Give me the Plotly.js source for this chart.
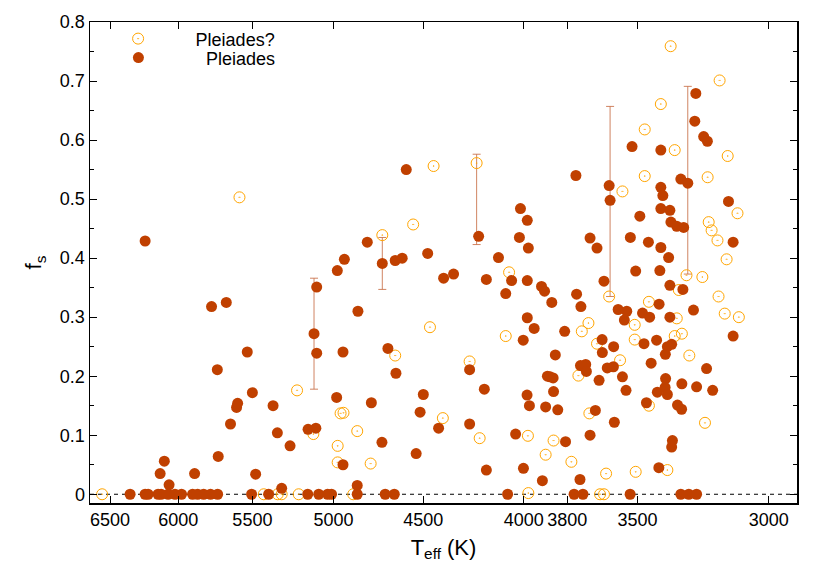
<!DOCTYPE html>
<html>
<head>
<meta charset="utf-8">
<script src="https://cdn.plot.ly/plotly-3.0.1.min.js"></script>
<style>html,body{margin:0;padding:0;background:#fff;}#chart{width:830px;height:581px;}</style>
</head>
<body>
<div id="chart"></div>
<script>
// Pleiades (filled) : effective temperature (K) and spot filling factor fs
const pleiadesTeff = [
 6349,6238,6216,6144,6122,6072,6023,5977,5900,5865,5824,5777,5729,5505,5396,5154,5088,5035,5012,4863,4706,4656,4076,3770,3731,3530,3326,3295,3265,
 4863,6065,5314,6129,6099,5886,5479,4945,5262,4724,5643,5725,5341,5152,5105,5368,5603,5596,4982,4783,5500,5731,5533,5116,5100,4945,4691,4859,5770,5671,
 4647,4500,4517,4420,4538,4262,4189,4262,4179,4002,3983,3951,4038,4001,3984,3973,3913,3854,3812,3890,3878,3864,3862,3898,3843,3808,3744,3742,3719,3716,3740,
 3648,3647,3599,3626,3600,3661,3677,3596,3700,3580,3544,3554,3412,3479,3450,3369,3277,3128,3473,3422,3379,3362,3387,3562,3547,3444,3386,3419,3388,3379,3322,3265,3227,3204,3463,3339,3323,3359,3362,3413,
 6238,5100,4978,4937,4806,4722,4651,4613,4591,4477,4394,4343,4217,4179,4120,4085,4057,4020,4015,3983,3978,3983,3917,3903,3870,3762,
 3268,3272,3238,3224,3522,3405,3326,3299,3618,3614,3145,3405,3397,3405,3369,3490,3365,3342,3315,3529,3700,3455,3128,3670,3405,3374,3507,3409,3369,3318,3759,3640
];
const pleiadesFs = [
 0,0,0,0,0,0,0,0,0,0,0,0,0,0,0,0,0,0,0,0,0,0,0,0,0,0,0,0,0,
 0.015,0.016,0.010,0.035,0.056,0.035,0.034,0.050,0.082,0.088,0.119,0.064,0.104,0.110,0.112,0.150,0.147,0.154,0.164,0.155,0.172,0.211,0.241,0.272,0.239,0.241,0.247,0.310,0.318,0.325,
 0.205,0.169,0.139,0.112,0.069,0.211,0.178,0.119,0.041,0.261,0.299,0.281,0.102,0.044,0.168,0.150,0.023,0.236,0.276,0.200,0.199,0.197,0.174,0.148,0.143,0.089,0.025,0.218,0.220,0.208,0.318,
 0.262,0.240,0.250,0.214,0.216,0.193,0.142,0.122,0.100,0.313,0.310,0.295,0.322,0.307,0.300,0.300,0.312,0.268,0.255,0.261,0.250,0.254,0.237,0.199,0.176,0.222,0.196,0.173,0.181,0.169,0.187,0.182,0.213,0.176,0.155,0.151,0.144,0.091,0.080,0.045,
 0.429,0.351,0.379,0.398,0.427,0.391,0.396,0.400,0.550,0.408,0.366,0.373,0.437,0.364,0.401,0.340,0.362,0.435,0.484,0.464,0.417,0.362,0.352,0.344,0.325,0.540,
 0.679,0.632,0.606,0.598,0.589,0.583,0.534,0.527,0.523,0.498,0.496,0.520,0.506,0.484,0.481,0.471,0.461,0.454,0.452,0.435,0.434,0.427,0.427,0.417,0.418,0.401,0.378,0.379,0.354,0.347,0.339,0.361
];
// Pleiades? (open)
const candTeff = [
 6561,5427,5339,5314,5209,4886,3978,3657,3640,
 4976,4787,4976,5120,4863,4959,4942,5219,4651,4465,4398,4262,4212,4085,3980,3898,3862,3782,3751,3736,3707,3670,3572,3703,3631,3453,3342,3159,3107,3511,3511,3350,3322,3293,3453,3233,3379,3507,
 5584,4722,4554,4446,4227,4069,3366,3178,3405,3470,3148,3350,3470,3223,3562,3112,3219,3208,3186,3152,3304,3243,3334,3182,3618
];
const candFs = [
 0,0,0,0,0,0,0.002,0,0,
 0.054,0.052,0.082,0.102,0.107,0.137,0.138,0.176,0.235,0.283,0.129,0.225,0.095,0.268,0.099,0.067,0.091,0.055,0.201,0.276,0.290,0.255,0.227,0.137,0.035,0.326,0.298,0.306,0.300,0.287,0.262,0.268,0.272,0.235,0.150,0.121,0.041,0.038,
 0.503,0.439,0.457,0.556,0.561,0.376,0.759,0.701,0.661,0.618,0.573,0.583,0.539,0.537,0.513,0.476,0.461,0.447,0.430,0.398,0.371,0.368,0.346,0.335,0.335
];
// error bars
const errTeff = [5116, 4722, 4227, 3614, 3299];
const errFs = [0.272, 0.391, 0.500, 0.496, 0.532];
const errPlus = [0.094, 0.044, 0.076, 0.161, 0.159];
const errMinus = [0.094, 0.044, 0.077, 0.161, 0.159];

const xTicks = [6500, 6000, 5500, 5000, 4500, 4000, 3800, 3500, 3000];
const xTickText = ['6500', '6000', '5500', '5000', '4500', '4000', '3800', '3500', '3000'];
const yTicks = [0, 0.1, 0.2, 0.3, 0.4, 0.5, 0.6, 0.7, 0.8];

const FONT = 'Liberation Sans, Arial, Helvetica, sans-serif';

const traces = [
  {
    x: errTeff, y: errFs, type: 'scatter', mode: 'markers',
    marker: {size: 1, opacity: 0},
    error_y: {type: 'data', symmetric: false, array: errPlus, arrayminus: errMinus,
              color: 'rgba(200,110,70,0.85)', thickness: 1, width: 4},
    showlegend: false, hoverinfo: 'skip'
  },
  {
    x: candTeff, y: candFs, type: 'scatter', mode: 'markers', name: 'Pleiades?', legend: 'legend',
    marker: {symbol: 'circle-open-dot', size: 11, color: '#ffa500', line: {width: 1, color: '#ffa500'}}
  },
  {
    x: pleiadesTeff, y: pleiadesFs, type: 'scatter', mode: 'markers', name: 'Pleiades', legend: 'legend2',
    marker: {symbol: 'circle', size: 11, color: '#c04000', line: {width: 0}}
  }
];

const layout = {
  width: 830, height: 581,
  margin: {l: 90, r: 33, t: 22, b: 78},
  paper_bgcolor: '#fff', plot_bgcolor: '#fff',
  font: {family: FONT, size: 18, color: '#000'},
  showlegend: true,
  legend: {x: -0.0133, y: 1.0033, xanchor: 'left', yanchor: 'top', bgcolor: 'rgba(0,0,0,0)',
           font: {family: FONT, size: 18}, itemwidth: 105},
  legend2: {x: -0.027, y: 0.9638, xanchor: 'left', yanchor: 'top', bgcolor: 'rgba(0,0,0,0)',
           font: {family: FONT, size: 18}, itemwidth: 125},
  xaxis: {
    type: 'log', range: [Math.log10(6655), Math.log10(2902)],
    tickvals: xTicks, ticktext: xTickText,
    ticks: 'inside', ticklen: 7, tickwidth: 1, tickcolor: '#000',
    showline: true, linecolor: '#000', linewidth: 1.5, mirror: 'allticks',
    showgrid: false, zeroline: false,
    title: {text: 'T<sub>eff</sub> (K)', font: {family: FONT, size: 22}, standoff: 10},
    tickfont: {family: FONT, size: 18}
  },
  yaxis: {
    range: [-0.0148, 0.8], tickvals: yTicks,
    ticks: 'inside', ticklen: 7, tickwidth: 1, tickcolor: '#000',
    minor: {dtick: 0.05, tick0: 0, ticks: 'inside', ticklen: 4, tickcolor: '#000', showgrid: false},
    showline: true, linecolor: '#000', linewidth: 1.5, mirror: 'allticks',
    showgrid: false, zeroline: false,
    title: {text: 'f<sub>s</sub>', font: {family: FONT, size: 22}, standoff: 12},
    tickfont: {family: FONT, size: 18}
  },
  shapes: [{type: 'line', xref: 'paper', x0: 0, x1: 1, yref: 'y', y0: 0, y1: 0,
            line: {color: '#000', width: 1, dash: '4px,4px'}, layer: 'below'}]
};

Plotly.newPlot('chart', traces, layout, {displayModeBar: false, staticPlot: true});
</script>
</body>
</html>
